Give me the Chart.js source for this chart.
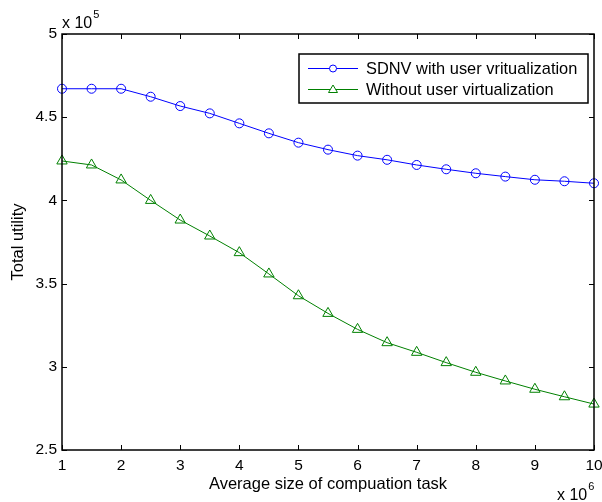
<!DOCTYPE html>
<html>
<head>
<meta charset="utf-8">
<script src="https://cdn.jsdelivr.net/npm/chart.js@4.4.1/dist/chart.umd.min.js"></script>
<style>
  html, body { margin: 0; padding: 0; background: #fff; }
  #wrap { width: 602px; height: 502px; }
</style>
</head>
<body>
<div id="wrap"><canvas id="utilityChart" width="602" height="502"></canvas></div>
<script>
// Total utility vs. average computation task size (x in 1e6, y in 1e5)
const taskSizes = [1, 1.5, 2, 2.5, 3, 3.5, 4, 4.5, 5, 5.5, 6, 6.5, 7, 7.5, 8, 8.5, 9, 9.5, 10];
const sdnvUtility = [4.671, 4.671, 4.671, 4.623, 4.567, 4.523, 4.463, 4.403, 4.347, 4.305, 4.269, 4.244, 4.213, 4.187, 4.163, 4.143, 4.124, 4.115, 4.103];
const noVirtUtility = [4.237, 4.213, 4.123, 4.0, 3.882, 3.786, 3.686, 3.558, 3.427, 3.321, 3.225, 3.145, 3.087, 3.025, 2.967, 2.915, 2.865, 2.820, 2.776];
const xTicks = [1, 2, 3, 4, 5, 6, 7, 8, 9, 10];
const yTicks = [2.5, 3, 3.5, 4, 4.5, 5];
const seriesNames = ["SDNV with user vritualization", "Without user virtualization"];

const FONT = "'Liberation Sans', Arial, Helvetica, sans-serif";

// MATLAB-like box: frame on all four sides, ticks pointing inward
const axesBox = {
  id: "axesBox",
  afterDatasetsDraw(chart) {
    const { ctx, chartArea: a, scales } = chart;
    const len = 5;
    ctx.save();
    ctx.strokeStyle = "#000";
    ctx.lineWidth = 1;
    ctx.beginPath();
    xTicks.forEach(v => {
      const px = Math.round(scales.x.getPixelForValue(v)) + 0.5;
      ctx.moveTo(px, a.bottom); ctx.lineTo(px, a.bottom - len);
      ctx.moveTo(px, a.top); ctx.lineTo(px, a.top + len);
    });
    yTicks.forEach(v => {
      const py = Math.round(scales.y.getPixelForValue(v)) + 0.5;
      ctx.moveTo(a.left, py); ctx.lineTo(a.left + len, py);
      ctx.moveTo(a.right, py); ctx.lineTo(a.right - len, py);
    });
    ctx.stroke();
    ctx.lineWidth = 1.5;
    ctx.strokeRect(a.left, a.top, a.right - a.left, a.bottom - a.top);

    // exponent labels
    ctx.fillStyle = "#000";
    ctx.textBaseline = "alphabetic";
    ctx.textAlign = "left";
    ctx.font = "16px " + FONT;
    ctx.fillText("x 10", a.left, a.top - 6);
    const w5 = ctx.measureText("x 10").width;
    ctx.font = "11px " + FONT;
    ctx.fillText("5", a.left + w5 + 1, a.top - 16);

    ctx.font = "16px " + FONT;
    ctx.fillText("x 10", a.right - 37, chart.height - 2);
    const w6 = ctx.measureText("x 10").width;
    ctx.font = "11px " + FONT;
    ctx.fillText("6", a.right - 37 + w6 + 1, chart.height - 12);
    ctx.restore();
  }
};

// boxed legend in the upper right of the axes
const boxedLegend = {
  id: "boxedLegend",
  afterDraw(chart) {
    const { ctx, chartArea: a } = chart;
    const w = 289, h = 49;
    const x0 = a.right - 6 - w, y0 = a.top + 20;
    ctx.save();
    ctx.fillStyle = "#fff";
    ctx.fillRect(x0, y0, w, h);
    ctx.strokeStyle = "#000";
    ctx.lineWidth = 1.5;
    ctx.strokeRect(x0, y0, w, h);
    ctx.font = "16.4px " + FONT;
    ctx.textBaseline = "middle";
    chart.data.datasets.forEach((ds, i) => {
      const y = y0 + 14 + i * 21;
      const lx = x0 + 9, mx = x0 + 34, rx = x0 + 59;
      ctx.strokeStyle = ds.borderColor;
      ctx.lineWidth = 1;
      ctx.beginPath();
      ctx.moveTo(lx, y + 0.5); ctx.lineTo(rx, y + 0.5);
      ctx.stroke();
      ctx.beginPath();
      if (ds.pointStyle === "circle") {
        ctx.arc(mx, y + 0.5, 3.5, 0, Math.PI * 2);
      } else {
        ctx.moveTo(mx, y - 4); ctx.lineTo(mx + 4.5, y + 3.5); ctx.lineTo(mx - 4.5, y + 3.5); ctx.closePath();
      }
      ctx.fillStyle = "#fff";
      ctx.fill();
      ctx.stroke();
      ctx.fillStyle = "#000";
      ctx.fillText(ds.label, x0 + 67, y + 1);
    });
    ctx.restore();
  }
};

new Chart(document.getElementById("utilityChart"), {
  type: "line",
  data: {
    datasets: [
      {
        label: seriesNames[0],
        data: taskSizes.map((x, i) => ({ x, y: sdnvUtility[i] })),
        borderColor: "#0000ff",
        backgroundColor: "#0000ff",
        borderWidth: 1,
        pointStyle: "circle",
        pointRadius: 4.5,
        pointBorderWidth: 1,
        pointBackgroundColor: "rgba(255,255,255,0)",
        pointBorderColor: "#0000ff",
        tension: 0,
        clip: false,
      },
      {
        label: seriesNames[1],
        data: taskSizes.map((x, i) => ({ x, y: noVirtUtility[i] })),
        borderColor: "#008000",
        backgroundColor: "#008000",
        borderWidth: 1,
        pointStyle: "triangle",
        pointRadius: 6,
        pointBorderWidth: 1,
        pointBackgroundColor: "rgba(255,255,255,0)",
        pointBorderColor: "#008000",
        tension: 0,
        clip: false,
      },
    ],
  },
  options: {
    responsive: false,
    animation: false,
    events: [],
    layout: { padding: { top: 34, right: 8, left: 0, bottom: 0 } },
    plugins: {
      legend: { display: false },
      tooltip: { enabled: false },
    },
    scales: {
      x: {
        type: "linear",
        min: 1,
        max: 10,
        afterBuildTicks: s => { s.ticks = xTicks.map(v => ({ value: v })); },
        // let the last tick label run off the edge instead of shrinking the plot
        afterFit: s => { s.height = 52; s.paddingLeft = 0; s.paddingRight = 0; },
        grid: { display: false, drawTicks: false },
        border: { display: false },
        ticks: { color: "#000", font: { family: FONT, size: 15.5 }, padding: 6, maxRotation: 0, autoSkip: false, callback: v => String(v) },
        title: { display: true, text: "Average size of compuation task", color: "#000", font: { family: FONT, size: 16.5 }, padding: { top: 0, bottom: 8 } },
      },
      y: {
        min: 2.5,
        max: 5,
        afterBuildTicks: s => { s.ticks = yTicks.map(v => ({ value: v })); },
        afterFit: s => { s.width = 62; },
        grid: { display: false, drawTicks: false },
        border: { display: false },
        ticks: { color: "#000", font: { family: FONT, size: 15.5 }, padding: 5, callback: v => String(v) },
        title: { display: true, text: "Total utility", color: "#000", font: { family: FONT, size: 16.5 }, padding: { top: 9, bottom: 0 } },
      },
    },
  },
  plugins: [axesBox, boxedLegend],
});
</script>
</body>
</html>
